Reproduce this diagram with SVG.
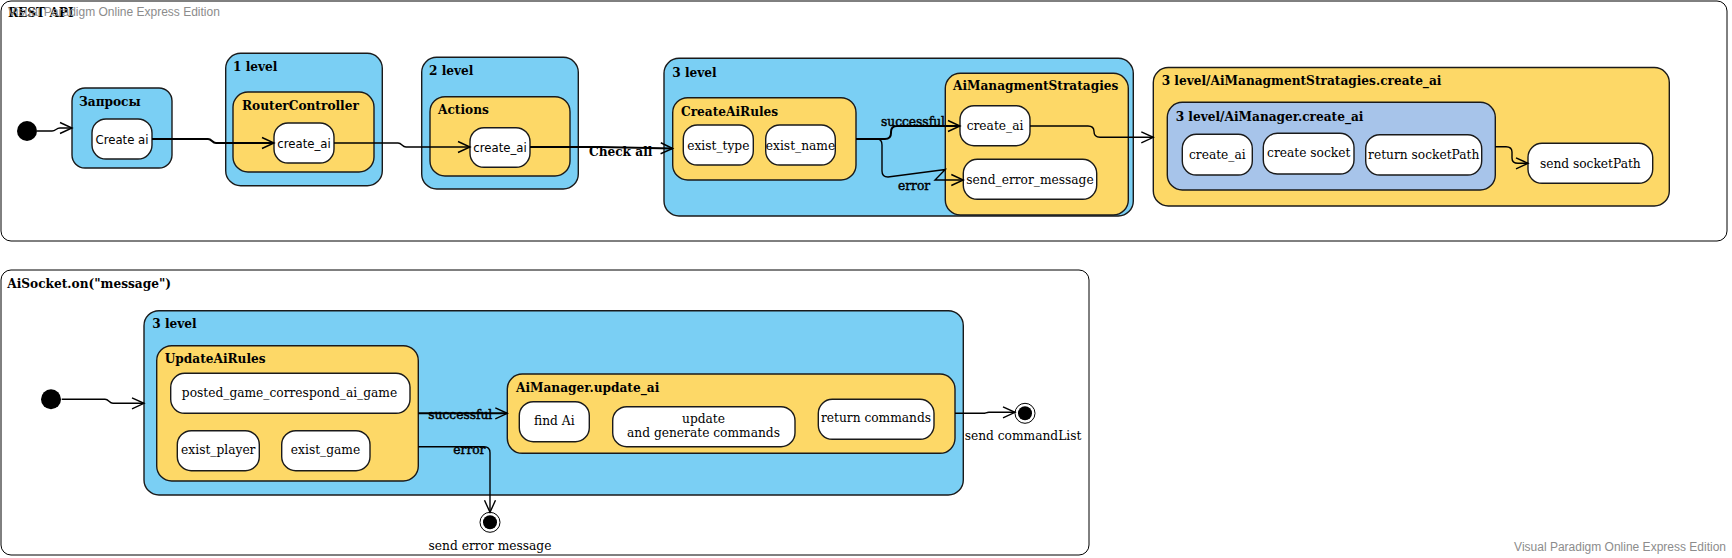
<svg xmlns="http://www.w3.org/2000/svg" width="1732" height="558" viewBox="0 0 1732 558">
<style>
.frame{fill:#fff;stroke:#000;stroke-width:1}
.blue{fill:#7ACFF4;stroke:#1a1a1a;stroke-width:1.4}
.yel{fill:#FDD867;stroke:#1a1a1a;stroke-width:1.4}
.lav{fill:#A7C4EA;stroke:#1a1a1a;stroke-width:1.4}
.st{fill:#fff;stroke:#1a1a1a;stroke-width:1.4}
.ti{font-family:"DejaVu Serif Condensed","DejaVu Serif",serif;font-stretch:condensed;font-weight:bold;font-size:13.5px;fill:#000}
.tx{font-family:"DejaVu Serif Condensed","DejaVu Serif",serif;font-stretch:condensed;font-size:13.6px;fill:#000}
.lb{font-family:"DejaVu Serif Condensed","DejaVu Serif",serif;font-stretch:condensed;font-size:13.6px;fill:#000;stroke:#000;stroke-width:0.45}
.sx{font-family:"DejaVu Sans Condensed","DejaVu Sans",sans-serif;font-stretch:condensed;font-size:13px;fill:#000}
.c{text-anchor:middle}
.wm{font-family:"Liberation Sans",Arial,sans-serif;font-size:12px;fill:#8c8c8c}
.ln{fill:none;stroke:#000;stroke-width:1.4}
.ln2{fill:none;stroke:#000;stroke-width:2}
.init{fill:#000}
</style>
<defs>
<marker id="arr" markerUnits="userSpaceOnUse" markerWidth="14" markerHeight="13" refX="12" refY="5.5" orient="auto" overflow="visible">
<path d="M0,0 L12,5.5 L0,11" fill="none" stroke="#000" stroke-width="1.4"/>
</marker>
</defs>

<g id="rest-api">
<rect class="frame" x="1" y="1" width="1726" height="240" rx="10"/>
<text class="ti" x="8" y="17">REST API</text>
</g>

<g id="initial-1"><circle class="init" cx="27" cy="131" r="10"/></g>

<g id="zaprosy">
<rect class="blue" x="72" y="88" width="100" height="80" rx="13"/>
<text class="ti" x="79" y="106">Запросы</text>
</g>
<g id="create-ai-req">
<rect class="st" x="92" y="119" width="60" height="40" rx="14"/>
<text class="sx c" x="122" y="143.5">Create ai</text>
</g>

<g id="level-1">
<rect class="blue" x="225.7" y="53.3" width="156.6" height="132.4" rx="15"/>
<text class="ti" x="233" y="71">1 level</text>
</g>
<g id="router-controller">
<rect class="yel" x="233" y="92" width="141" height="80" rx="15"/>
<text class="ti" x="242" y="110">RouterController</text>
</g>
<g id="create-ai-rc">
<rect class="st" x="274" y="123" width="60" height="40" rx="14"/>
<text class="sx c" x="304" y="147.5">create_ai</text>
</g>

<g id="level-2">
<rect class="blue" x="421.7" y="57.3" width="156.6" height="131.7" rx="15"/>
<text class="ti" x="429" y="74.5">2 level</text>
</g>
<g id="actions">
<rect class="yel" x="430" y="96.7" width="140" height="79.3" rx="15"/>
<text class="ti" x="438" y="113.5">Actions</text>
</g>
<g id="create-ai-actions">
<rect class="st" x="470" y="127.7" width="60" height="39.6" rx="14"/>
<text class="sx c" x="500" y="152">create_ai</text>
</g>

<g id="level-3-top">
<rect class="blue" x="664" y="58.3" width="469.3" height="157.7" rx="15"/>
<text class="ti" x="672.3" y="77">3 level</text>
</g>
<g id="create-ai-rules">
<rect class="yel" x="672.7" y="97.7" width="183.3" height="82.3" rx="15"/>
<text class="ti" x="681" y="116">CreateAiRules</text>
</g>
<g id="exist-type">
<rect class="st" x="683.3" y="125" width="70" height="40" rx="14"/>
<text class="tx c" x="718.3" y="149.5">exist_type</text>
</g>
<g id="exist-name">
<rect class="st" x="765.7" y="125" width="69.6" height="40" rx="14"/>
<text class="tx c" x="800.5" y="149.5">exist_name</text>
</g>
<g id="ai-managment-stratagies">
<rect class="yel" x="945.3" y="73.3" width="183" height="141.7" rx="15"/>
<text class="ti" x="953" y="90">AiManagmentStratagies</text>
</g>
<g id="create-ai-ams">
<rect class="st" x="960" y="105.7" width="70" height="40" rx="14"/>
<text class="tx c" x="995" y="130">create_ai</text>
</g>
<g id="send-error-message">
<rect class="st" x="963.3" y="159.3" width="133.4" height="40" rx="14"/>
<text class="tx c" x="1030" y="184">send_error_message</text>
</g>

<g id="ams-create-ai">
<rect class="yel" x="1153.3" y="67.5" width="516" height="138.5" rx="15"/>
<text class="ti" x="1161.7" y="84.5">3 level/AiManagmentStratagies.create_ai</text>
</g>
<g id="ai-manager-create-ai">
<rect class="lav" x="1167.3" y="102.3" width="328" height="87.7" rx="15"/>
<text class="ti" x="1175.7" y="121">3 level/AiManager.create_ai</text>
</g>
<g id="create-ai-am">
<rect class="st" x="1182.3" y="134.3" width="70" height="40.7" rx="14"/>
<text class="tx c" x="1217.3" y="158.5">create_ai</text>
</g>
<g id="create-socket">
<rect class="st" x="1263.3" y="133.3" width="90.7" height="40.7" rx="14"/>
<text class="tx c" x="1308.7" y="157">create socket</text>
</g>
<g id="return-socket-path">
<rect class="st" x="1365.7" y="134.7" width="116" height="40.3" rx="14"/>
<text class="tx c" x="1423.7" y="159">return socketPath</text>
</g>
<g id="send-socket-path">
<rect class="st" x="1528" y="143.3" width="124.7" height="40" rx="14"/>
<text class="tx c" x="1590.3" y="168">send socketPath</text>
</g>

<g id="ai-socket-message">
<rect class="frame" x="1" y="270" width="1088" height="285" rx="10"/>
<text class="ti" x="7.3" y="287.5">AiSocket.on("message")</text>
</g>
<g id="initial-2"><circle class="init" cx="51" cy="399.3" r="10"/></g>
<g id="level-3-bottom">
<rect class="blue" x="144" y="310.7" width="819.3" height="184.3" rx="15"/>
<text class="ti" x="152.3" y="327.5">3 level</text>
</g>
<g id="update-ai-rules">
<rect class="yel" x="156.7" y="345.7" width="261.6" height="135.3" rx="15"/>
<text class="ti" x="164.7" y="363">UpdateAiRules</text>
</g>
<g id="posted-game">
<rect class="st" x="170.7" y="373.3" width="239.3" height="40" rx="14"/>
<text class="tx c" x="289.5" y="397">posted_game_correspond_ai_game</text>
</g>
<g id="exist-player">
<rect class="st" x="177.3" y="430.7" width="82" height="40" rx="14"/>
<text class="tx c" x="218.3" y="454">exist_player</text>
</g>
<g id="exist-game">
<rect class="st" x="281.7" y="430.7" width="88.3" height="40" rx="14"/>
<text class="tx c" x="325.5" y="454">exist_game</text>
</g>
<g id="ai-manager-update-ai">
<rect class="yel" x="507.3" y="374" width="447.7" height="79.3" rx="15"/>
<text class="ti" x="516" y="392">AiManager.update_ai</text>
</g>
<g id="find-ai">
<rect class="st" x="519.3" y="401.7" width="70" height="40" rx="14"/>
<text class="tx c" x="554.3" y="424.5">find Ai</text>
</g>
<g id="update-generate">
<rect class="st" x="612.7" y="406.7" width="182.3" height="40" rx="14"/>
<text class="tx c" x="703.5" y="423">update</text>
<text class="tx c" x="703.5" y="437">and generate commands</text>
</g>
<g id="return-commands">
<rect class="st" x="818.3" y="399.3" width="115.7" height="40" rx="14"/>
<text class="tx c" x="876" y="422">return commands</text>
</g>
<g id="final-commandlist">
<circle cx="1025" cy="413.3" r="10" fill="#fff" stroke="#000" stroke-width="1"/>
<circle cx="1025" cy="413.3" r="7" fill="#000"/>
<text class="tx c" x="1023" y="440">send commandList</text>
</g>
<g id="final-error">
<circle cx="490" cy="522.3" r="10" fill="#fff" stroke="#000" stroke-width="1"/>
<circle cx="490" cy="522.3" r="7" fill="#000"/>
<text class="tx c" x="490" y="549.5">send error message</text>
</g>

<g id="connectors">
<path class="ln" d="M37,131 H52 C56,131 56,128 60,128 H72" marker-end="url(#arr)"/>
<path class="ln2" d="M152,139 H208 C212,139 212,143 216,143 H274" marker-end="url(#arr)"/>
<path class="ln" d="M334,143 H398 C402,143 402,147 406,147 H470" marker-end="url(#arr)"/>
<path class="ln2" d="M530,147 H600 L672.7,148.5" marker-end="url(#arr)"/>
<path class="ln2" d="M856,139 H885 Q891,139 891,133 V132 Q891,126 897,126 H960" marker-end="url(#arr)"/>
<path class="ln" d="M856,139 H877 Q882,139 882,145 V171 Q882,177 888,177 L945.3,169.5 L935,180 H963.3" marker-end="url(#arr)"/>
<path class="ln" d="M1030,126 H1088 Q1094,126 1094,131.5 Q1094,137.3 1100,137.3 H1153.3" marker-end="url(#arr)"/>
<path class="ln" d="M1495.3,146.7 H1506 Q1512,146.7 1512,152 V158 Q1512,163.3 1518,163.3 H1528" marker-end="url(#arr)"/>
<path class="ln" d="M61.7,399.3 H105 C109,399.3 109,403.3 113,403.3 H144" marker-end="url(#arr)"/>
<path class="ln2" d="M418.3,413.3 H507.3" marker-end="url(#arr)"/>
<path class="ln" d="M418.3,446.7 H484 Q490,446.7 490,452.7 V512.3" marker-end="url(#arr)"/>
<path class="ln" d="M955,413.3 H983 C986,413.3 986,412.3 989,412.3 H1015" marker-end="url(#arr)"/>
<text class="ti" x="589" y="155.5">Check all</text>
<text class="lb" x="881" y="126">successful</text>
<text class="lb" x="898" y="190">error</text>
<text class="lb" x="428.3" y="419">successful</text>
<text class="lb" x="453.3" y="454">error</text>
</g>

<text class="wm" x="8" y="16">Visual Paradigm Online Express Edition</text>
<text class="wm" x="1726" y="551" text-anchor="end">Visual Paradigm Online Express Edition</text>
</svg>
